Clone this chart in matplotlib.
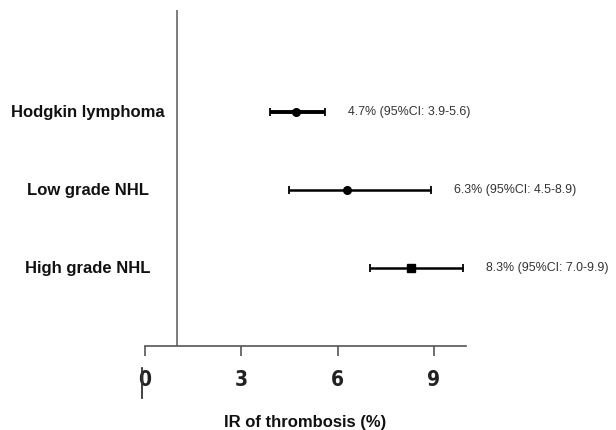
import matplotlib
matplotlib.use("Agg")
import matplotlib.pyplot as plt
from matplotlib.lines import Line2D

categories = ["Hodgkin lymphoma", "Low grade NHL", "High grade NHL"]
estimates = [4.7, 6.3, 8.3]
ci_low = [3.9, 4.5, 7.0]
ci_high = [5.6, 8.9, 9.9]
markers = ["o", "o", "s"]
labels = ["4.7% (95%CI: 3.9-5.6)", "6.3% (95%CI: 4.5-8.9)", "8.3% (95%CI: 7.0-9.9)"]
xticks = [0, 3, 6, 9]
ref_value = 1

fig = plt.figure(figsize=(6.16, 4.30), dpi=100)
ax = fig.add_axes([145/616, 84/430, 321/616, 336/430])
ax.set_xlim(0, 10)
ax.set_ylim(0, 4.31)

ypos = [3, 2, 1]
lws = [2.8, 1.8, 1.8]
msizes = [5.5, 5.5, 6]
for y, est, lo, hi, m, lab, lw, ms, cat in zip(ypos, estimates, ci_low, ci_high, markers,
                                               labels, lws, msizes, categories):
    ax.errorbar(est, y, xerr=[[est - lo], [hi - est]], fmt=m, color="black",
                ecolor="black", elinewidth=lw, capsize=3, capthick=1.3,
                markersize=ms, clip_on=False)
    ax.text(hi + 0.72, y, lab, ha="left", va="center", fontsize=8.9,
            color="#333333", family="Liberation Sans", clip_on=False)
    ax.text(-0.178, y, cat, transform=ax.get_yaxis_transform(),
            ha="center", va="center", fontsize=12, fontweight="bold",
            family="Liberation Sans", color="#111111")

ax.axvline(ref_value, color="#666666", lw=1.2)

for s in ["top", "right", "left"]:
    ax.spines[s].set_visible(False)
ax.spines["bottom"].set_color("#555555")
ax.spines["bottom"].set_linewidth(1.2)
ax.set_yticks([])
ax.set_xticks(xticks)
ax.tick_params(axis="x", direction="out", length=7, width=1.2, color="#555555", pad=10)
for t in ax.get_xticklabels():
    t.set_family(["DejaVu Sans"])
    t.set_fontstretch("condensed")
    t.set_fontweight("bold")
    t.set_fontsize(15)
    t.set_color("#222222")

ax.set_xlabel("IR of thrombosis (%)", fontsize=12, fontweight="bold",
              family="Liberation Sans", labelpad=18, color="#111111")

fig.add_artist(Line2D([142/616, 142/616], [1 - 368/430, 1 - 398/430], color="#333333", lw=1.3))

fig.savefig("out.png", dpi=100, facecolor="white")
